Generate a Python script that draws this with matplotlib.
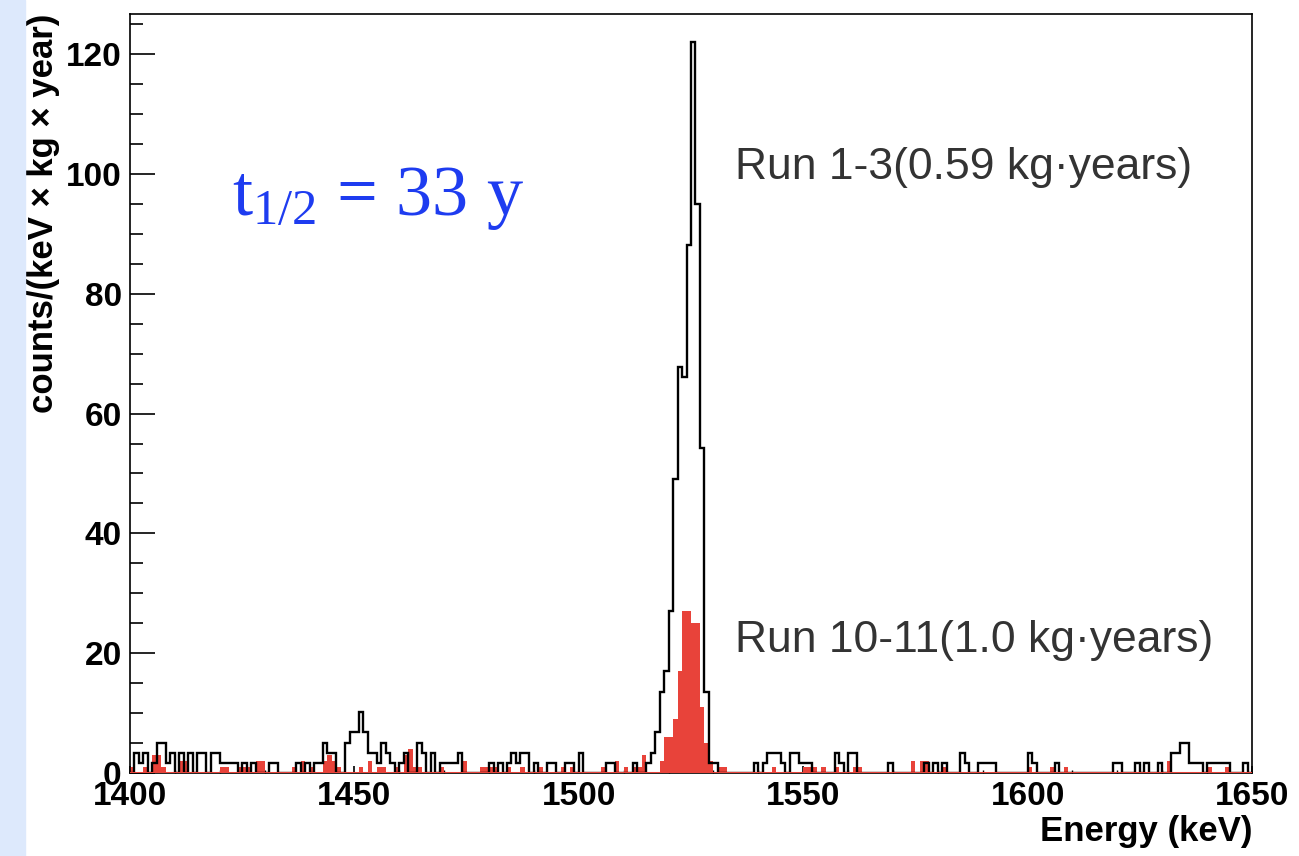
import numpy as np
import matplotlib.pyplot as plt
from matplotlib.patches import Rectangle
from matplotlib.ticker import MultipleLocator

plt.rcParams['mathtext.fontset'] = 'custom'
plt.rcParams['mathtext.rm'] = 'Liberation Serif'
plt.rcParams['mathtext.it'] = 'Liberation Serif:italic'

# 1 keV bins, 1400-1650 keV
bin_lo, bin_hi = 1400, 1650

# Run 1-3 (0.59 kg-years): bin lower edge -> counts
run13_exposure = 0.59
run13_bins = [1401, 1402, 1403, 1405, 1406, 1407, 1408, 1409, 1411, 1413, 1415, 1416,
              1418, 1419, 1420, 1421, 1422, 1423, 1425, 1427, 1431, 1432, 1437, 1439,
              1441, 1442, 1443, 1444, 1445, 1448, 1449, 1450, 1451, 1452, 1453, 1454,
              1455, 1456, 1457, 1458, 1460, 1461, 1464, 1465, 1467, 1469, 1470, 1471,
              1472, 1473, 1480, 1482, 1484, 1485, 1486, 1487, 1488, 1490, 1493, 1494,
              1497, 1498, 1500, 1506, 1507, 1512, 1515, 1516, 1517, 1518, 1519, 1520,
              1521, 1522, 1523, 1524, 1525, 1526, 1527, 1528, 1529, 1530, 1539, 1541,
              1542, 1543, 1544, 1545, 1547, 1548, 1549, 1550, 1551, 1557, 1558, 1560,
              1561, 1569, 1577, 1579, 1581, 1585, 1586, 1589, 1590, 1591, 1592, 1600,
              1601, 1606, 1619, 1620, 1624, 1626, 1629, 1632, 1633, 1634, 1635, 1636,
              1637, 1638, 1640, 1641, 1642, 1643, 1644, 1648]
run13_counts = [2, 1, 2, 1, 3, 3, 1, 2, 2, 2, 2, 2,
                2, 2, 1, 1, 1, 1, 1, 1, 1, 1, 1, 1,
                1, 1, 3, 2, 2, 3, 4, 4, 6, 4, 2, 2,
                1, 3, 2, 1, 1, 2, 3, 2, 2, 1, 1, 1,
                1, 2, 1, 1, 1, 2, 1, 2, 2, 1, 1, 1,
                1, 1, 2, 1, 1, 1, 1, 2, 4, 8, 10, 16,
                29, 40, 39, 52, 72, 56, 32, 8, 1, 1, 1, 1,
                2, 2, 2, 1, 2, 2, 1, 1, 1, 2, 1, 2,
                2, 1, 1, 1, 1, 2, 1, 1, 1, 1, 1, 2,
                1, 1, 1, 1, 1, 1, 1, 2, 2, 3, 3, 1,
                1, 1, 1, 1, 1, 1, 1, 1]

# Run 10-11 (1.0 kg-years)
run1011_exposure = 1.0
run1011_bins = [1400, 1403, 1405, 1406, 1407, 1411, 1412, 1420, 1421, 1424, 1425, 1426,
                1428, 1429, 1436, 1438, 1440, 1443, 1444, 1445, 1446, 1451, 1453, 1455,
                1456, 1459, 1461, 1462, 1463, 1464, 1469, 1474, 1478, 1479, 1480, 1481,
                1484, 1487, 1491, 1496, 1498, 1505, 1508, 1510, 1512, 1513, 1514, 1518,
                1519, 1520, 1521, 1522, 1523, 1524, 1525, 1526, 1527, 1528, 1529, 1531,
                1532, 1543, 1550, 1551, 1552, 1554, 1557, 1561, 1562, 1574, 1576, 1577,
                1581, 1600, 1605, 1608, 1631, 1640, 1644]
run1011_counts = [1, 1, 3, 3, 1, 2, 2, 1, 1, 1, 1, 1,
                  2, 2, 1, 2, 1, 2, 3, 2, 1, 1, 2, 1,
                  1, 1, 3, 4, 1, 1, 1, 2, 1, 1, 1, 1,
                  1, 1, 1, 1, 1, 1, 2, 1, 1, 1, 3, 2,
                  6, 6, 9, 17, 27, 27, 25, 25, 11, 5, 2, 1,
                  1, 1, 1, 1, 1, 1, 1, 1, 1, 2, 2, 2,
                  1, 1, 1, 1, 2, 1, 1]


def to_rate(bins, counts, exposure):
    h = np.zeros(bin_hi - bin_lo)
    for b, c in zip(bins, counts):
        h[b - bin_lo] += c
    return h / exposure


edges = np.arange(bin_lo, bin_hi + 1)
black = to_rate(run13_bins, run13_counts, run13_exposure)
red = to_rate(run1011_bins, run1011_counts, run1011_exposure)

fig = plt.figure(figsize=(12.99, 8.56), dpi=100)
fig.patches.append(Rectangle((0, 0), 25 / 1299, 1, transform=fig.transFigure,
                             color='#dde9fc', zorder=0))
ax = fig.add_axes([130 / 1299, 1 - 773 / 856, 1122 / 1299, 759 / 856])

red_col = '#e8433a'
ax.stairs(red, edges, fill=True, color=red_col, zorder=2)
ax.stairs(black, edges, color='black', lw=1.7, zorder=3)
ax.axhline(0, color=red_col, lw=2.2, zorder=4)

ax.set_xlim(bin_lo, bin_hi)
ax.set_ylim(0, 126.7)

ax.xaxis.set_major_locator(MultipleLocator(50))
ax.xaxis.set_minor_locator(MultipleLocator(10))
ax.yaxis.set_major_locator(MultipleLocator(20))
ax.yaxis.set_minor_locator(MultipleLocator(5))
ax.tick_params(axis='y', which='major', direction='in', length=18, width=1.2, pad=6)
ax.tick_params(axis='y', which='minor', direction='in', length=9, width=1.2)
ax.tick_params(axis='x', which='major', direction='in', length=5, width=1.2, pad=6)
ax.tick_params(axis='x', which='minor', direction='in', length=2.5, width=1.0)
for lab in ax.get_xticklabels() + ax.get_yticklabels():
    lab.set_fontfamily('Liberation Sans')
    lab.set_fontweight('bold')
    lab.set_fontsize(24)
for sp in ax.spines.values():
    sp.set_linewidth(1.2)

ax.set_ylabel('counts/(keV × kg × year)', loc='top', fontsize=25,
              fontweight='bold', family='Liberation Sans')
ax.yaxis.set_label_coords(-0.062, 1.0)
ax.set_xlabel('Energy (keV)', loc='right', fontsize=25,
              fontweight='bold', family='Liberation Sans')
ax.xaxis.set_label_coords(1.0, -0.055)

ax.text(1534.8, 101, 'Run 1-3(0.59 kg·years)', fontsize=32, color='#333333',
        family='Liberation Sans', va='center', ha='left')
ax.text(1534.8, 22.2, 'Run 10-11(1.0 kg·years)', fontsize=32, color='#333333',
        family='Liberation Sans', va='center', ha='left')
ax.text(1422.7, 93.2, r't$_{1/2}$ = 33 y', fontsize=52, color='#1e3cf0',
        family='Liberation Serif', va='baseline', ha='left')

fig.savefig('out.png', dpi=100)
